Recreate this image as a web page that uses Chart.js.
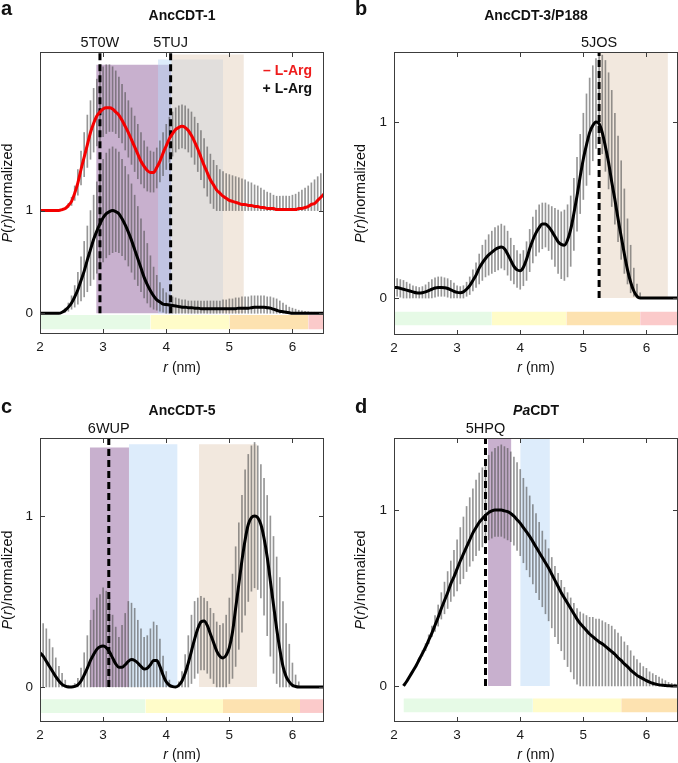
<!DOCTYPE html>
<html lang="en">
<head>
<meta charset="UTF-8">
<title>P(r) distance distributions</title>
<script src="https://cdn.jsdelivr.net/npm/chart.js@4.4.1/dist/chart.umd.min.js"></script>
<style>
  body { margin: 0; background: #fff; }
  #wrap { position: relative; width: 678px; height: 763px; }
  canvas { position: absolute; }
</style>
</head>
<body>
<div id="wrap">
  <canvas id="pa" width="339" height="380" style="left:0;top:0"></canvas>
  <canvas id="pb" width="339" height="380" style="left:339px;top:0"></canvas>
  <canvas id="pc" width="339" height="383" style="left:0;top:380px"></canvas>
  <canvas id="pd" width="339" height="383" style="left:339px;top:380px"></canvas>
</div>
<script>
// distance grid (nm)
const R = [2,2.05,2.1,2.15,2.2,2.25,2.3,2.35,2.4,2.45, 2.5,2.55,2.6,2.65,2.7,2.75,2.8,2.85,2.9,2.95,
  3,3.05,3.1,3.15,3.2,3.25,3.3,3.35,3.4,3.45, 3.5,3.55,3.6,3.65,3.7,3.75,3.8,3.85,3.9,3.95,
  4,4.05,4.1,4.15,4.2,4.25,4.3,4.35,4.4,4.45, 4.5,4.55,4.6,4.65,4.7,4.75,4.8,4.85,4.9,4.95,
  5,5.05,5.1,5.15,5.2,5.25,5.3,5.35,5.4,5.45, 5.5,5.55,5.6,5.65,5.7,5.75,5.8,5.85,5.9,5.95,
  6,6.05,6.1,6.15,6.2,6.25,6.3,6.35,6.4,6.45, 6.5];

const X_TICKS = [2, 3, 4, 5, 6];
const Y_TICKS = [0, 1];

// a: AncCDT-1, -L-Arg (offset by 1) and +L-Arg
const aMinusArg = [1,1,1,1,1,1,1,1.01,1.02,1.05, 1.09,1.17,1.27,1.40,1.52,1.64,1.76,1.85,1.92,1.96,
  1.99,2.00,2.00,1.99,1.96,1.93,1.88,1.82,1.76,1.69, 1.62,1.55,1.48,1.43,1.39,1.37,1.37,1.42,1.48,1.56,
  1.63,1.70,1.75,1.79,1.81,1.82,1.81,1.78,1.73,1.67, 1.60,1.52,1.44,1.37,1.30,1.25,1.20,1.17,1.14,1.12,
  1.10,1.09,1.08,1.07,1.06,1.06,1.05,1.05,1.04,1.04, 1.03,1.03,1.02,1.02,1.02,1.01,1.01,1.01,1.01,1.01,
  1.01,1.01,1.02,1.02,1.03,1.04,1.06,1.07,1.10,1.13, 1.16];
const aMinusArgHi = [null,null,null,null,null,null,null,null,null,1.07, 1.13,1.24,1.40,1.58,1.76,1.93,2.07,2.19,2.28,2.35,
  2.40,2.42,2.42,2.40,2.36,2.30,2.23,2.15,2.07,2.00, 1.92,1.84,1.76,1.68,1.62,1.58,1.57,1.61,1.68,1.76,
  1.84,1.91,1.96,2.00,2.02,2.03,2.02,1.99,1.96,1.91, 1.85,1.78,1.70,1.62,1.55,1.49,1.44,1.40,1.38,1.36,
  1.35,1.34,1.33,1.32,1.31,1.30,1.28,1.27,1.25,1.24, 1.22,1.20,1.18,1.17,1.15,1.14,1.14,1.14,1.14,1.14,
  1.15,1.16,1.18,1.20,1.22,1.24,1.27,1.30,1.33,1.36, 1.40];
const aMinusArgLo = [null,null,null,null,null,null,null,null,null,1.03, 1.05,1.10,1.15,1.25,1.33,1.42,1.50,1.57,1.63,1.68,
  1.72,1.75,1.77,1.77,1.75,1.71,1.66,1.59,1.52,1.45, 1.38,1.31,1.26,1.22,1.19,1.18,1.18,1.22,1.28,1.34,
  1.40,1.47,1.53,1.57,1.60,1.61,1.60,1.57,1.52,1.45, 1.38,1.30,1.22,1.14,1.07,1.02,1,1,1,1,
  1,1,1,1,1,1,1,1,1,1, 1,1,1,1,1,1,1,1,1,1,
  1,1,1,1,1,1,1,1,1,1, 1];
const aPlusArg = [0,0,0,0,0,0,0,0.01,0.03,0.06, 0.10,0.16,0.23,0.32,0.41,0.52,0.62,0.72,0.80,0.87,
  0.93,0.97,0.99,1.00,0.99,0.97,0.92,0.86,0.79,0.71, 0.62,0.53,0.44,0.35,0.28,0.22,0.17,0.13,0.11,0.09,
  0.085,0.08,0.075,0.07,0.065,0.06,0.06,0.055,0.055,0.05, 0.05,0.045,0.045,0.045,0.045,0.045,0.045,0.045,0.045,0.045,
  0.045,0.045,0.045,0.05,0.05,0.05,0.05,0.055,0.06,0.06, 0.06,0.06,0.055,0.05,0.04,0.03,0.02,0.015,0.01,0.005,
  0,0,0,0,0,0,0,0,0,0, 0];
const aPlusArgHi = [null,null,null,null,null,null,null,null,0.05,0.10, 0.17,0.27,0.40,0.55,0.70,0.85,1.00,1.15,1.28,1.40,
  1.50,1.56,1.60,1.62,1.60,1.57,1.50,1.43,1.35,1.26, 1.15,1.04,0.92,0.80,0.68,0.56,0.45,0.37,0.30,0.24,
  0.20,0.18,0.16,0.15,0.14,0.13,0.13,0.12,0.12,0.12, 0.12,0.12,0.12,0.12,0.12,0.12,0.12,0.12,0.13,0.13,
  0.14,0.14,0.15,0.15,0.16,0.16,0.16,0.17,0.17,0.17, 0.17,0.17,0.16,0.16,0.15,0.14,0.12,0.10,0.08,0.06,
  0.05,0.04,0.03,0.025,0.02,0.015,0.01,0.01,0.005,0.005, 0];
const aPlusArgLo = [null,null,null,null,null,null,null,null,0.01,0.02, 0.04,0.06,0.09,0.12,0.16,0.21,0.27,0.33,0.39,0.45,
  0.50,0.54,0.57,0.59,0.60,0.59,0.56,0.52,0.46,0.40, 0.33,0.27,0.21,0.15,0.10,0.06,0.04,0.03,0.02,0.01,
  0,0,0,0,0,0,0,0,0,0, 0,0,0,0,0,0,0,0,0,0,
  0,0,0,0,0,0,0,0,0,0, 0,0,0,0,0,0,0,0,0,0,
  0,0,0,0,0,0,0,0,0,0, 0];

// b: AncCDT-3/P188
const bP = [0.06,0.06,0.055,0.05,0.045,0.04,0.035,0.03,0.028,0.03, 0.035,0.042,0.05,0.057,0.06,0.06,0.058,0.054,0.047,0.038,
  0.032,0.03,0.035,0.05,0.07,0.10,0.13,0.17,0.20,0.225, 0.245,0.26,0.275,0.285,0.29,0.28,0.25,0.215,0.18,0.16,
  0.155,0.175,0.22,0.28,0.33,0.37,0.40,0.42,0.42,0.405, 0.38,0.35,0.32,0.305,0.30,0.33,0.39,0.48,0.58,0.69,
  0.79,0.87,0.94,0.98,1.00,0.99,0.94,0.86,0.77,0.66, 0.56,0.45,0.35,0.25,0.16,0.09,0.04,0.01,0,0,
  0,0,0,0,0,0,0,0,0,0, 0];
const bHi = [0.11,0.11,0.105,0.10,0.09,0.08,0.07,0.065,0.06,0.065, 0.075,0.09,0.105,0.115,0.12,0.12,0.115,0.11,0.10,0.085,
  0.07,0.065,0.07,0.09,0.12,0.16,0.20,0.25,0.30,0.33, 0.36,0.38,0.40,0.41,0.42,0.41,0.38,0.34,0.30,0.27,
  0.25,0.27,0.32,0.39,0.46,0.50,0.53,0.54,0.54,0.53, 0.52,0.51,0.50,0.49,0.50,0.53,0.58,0.68,0.80,0.93,
  1.05,1.16,1.25,1.32,1.36,1.38,1.38,1.35,1.28,1.18, 1.05,0.92,0.78,0.62,0.45,0.30,0.17,0.08,0.03,0,
  0,0,0,0,0,0,0,0,0,0, 0];
const bLo = [0.01,0.01,0.005,0,0,0,0,0,0,0, 0,0,0,0.005,0.01,0.01,0.01,0.005,0,0,
  0,0,0,0.01,0.02,0.04,0.06,0.08,0.10,0.12, 0.13,0.14,0.15,0.16,0.17,0.16,0.13,0.10,0.08,0.06,
  0.05,0.07,0.10,0.15,0.20,0.24,0.26,0.28,0.29,0.27, 0.22,0.18,0.14,0.11,0.10,0.12,0.18,0.27,0.38,0.48,
  0.56,0.64,0.70,0.78,0.85,0.88,0.82,0.72,0.62,0.52, 0.42,0.32,0.22,0.14,0.08,0.03,0.01,0,0,0,
  0,0,0,0,0,0,0,0,0,0, 0];

// c: AncCDT-5
const cP = [0.20,0.18,0.15,0.12,0.09,0.06,0.035,0.015,0.005,0, 0,0.003,0.012,0.035,0.07,0.11,0.155,0.19,0.22,0.235,
  0.24,0.23,0.205,0.17,0.135,0.115,0.115,0.13,0.15,0.16, 0.155,0.14,0.12,0.105,0.11,0.13,0.155,0.155,0.12,0.07,
  0.03,0.01,0.002,0,0.01,0.035,0.08,0.14,0.21,0.28, 0.34,0.38,0.385,0.36,0.31,0.26,0.21,0.18,0.17,0.185,
  0.23,0.32,0.46,0.60,0.74,0.86,0.95,0.99,1.00,0.99, 0.95,0.87,0.76,0.62,0.48,0.34,0.22,0.12,0.06,0.03,
  0.01,0.003,0,0,0,0,0,0,0,0, 0];
const cHi = [0.41,0.37,0.34,0.28,0.23,0.17,0.12,0.08,0.04,0.01, 0,0.02,0.05,0.11,0.20,0.30,0.39,0.45,0.52,0.54,
  0.58,0.56,0.52,0.42,0.35,0.29,0.36,0.43,0.50,0.49, 0.46,0.39,0.34,0.29,0.30,0.34,0.38,0.36,0.28,0.18,
  0.09,0.04,0.01,0,0.03,0.09,0.19,0.30,0.42,0.50, 0.52,0.53,0.52,0.50,0.46,0.43,0.38,0.36,0.37,0.42,
  0.52,0.66,0.82,0.96,1.12,1.27,1.36,1.41,1.43,1.41, 1.30,1.22,1.12,1.00,0.88,0.76,0.64,0.50,0.37,0.25,
  0.14,0.07,0.03,0,0,0,0,0,0,0, 0];
const cLo = [0,0,0,0,0,0,0,0,0,0, 0,0,0,0,0,0,0,0,0,0,
  0,0,0,0,0,0,0,0,0,0, 0,0,0,0,0,0,0,0,0,0,
  0,0,0,0,0,0,0,0,0.02,0.05, 0.08,0.10,0.10,0.08,0.05,0.02,0,0,0,0,
  0.02,0.05,0.12,0.22,0.32,0.42,0.50,0.56,0.58,0.57, 0.52,0.42,0.30,0.18,0.08,0.02,0,0,0,0,
  0,0,0,0,0,0,0,0,0,0, 0];

// d: PaCDT
const dP = [null,null,null,0,0.025,0.055,0.085,0.115,0.15,0.185, 0.22,0.26,0.30,0.345,0.39,0.44,0.485,0.53,0.58,0.62,
  0.665,0.71,0.75,0.79,0.83,0.87,0.90,0.93,0.95,0.97, 0.985,0.995,1.00,1.00,1.00,0.995,0.99,0.98,0.965,0.945,
  0.925,0.90,0.875,0.85,0.82,0.79,0.76,0.73,0.70,0.67, 0.635,0.60,0.565,0.53,0.50,0.47,0.44,0.41,0.38,0.355,
  0.335,0.315,0.295,0.28,0.265,0.25,0.24,0.225,0.21,0.195, 0.18,0.16,0.145,0.125,0.11,0.09,0.075,0.06,0.05,0.04,
  0.03,0.022,0.015,0.01,0.006,0.004,0.002,0.001,0,0, 0];
const dHi = [null,null,null,null,null,null,0.09,0.12,0.16,0.20, 0.24,0.29,0.34,0.40,0.46,0.53,0.59,0.65,0.71,0.77,
  0.83,0.90,0.96,1.02,1.07,1.12,1.17,1.21,1.24,1.28, 1.31,1.33,1.35,1.36,1.37,1.36,1.35,1.33,1.30,1.27,
  1.23,1.18,1.13,1.08,1.03,0.98,0.93,0.88,0.83,0.78, 0.73,0.68,0.64,0.60,0.56,0.53,0.50,0.47,0.44,0.42,
  0.41,0.40,0.39,0.39,0.38,0.38,0.37,0.36,0.35,0.34, 0.32,0.30,0.28,0.25,0.23,0.20,0.17,0.15,0.13,0.11,
  0.10,0.08,0.07,0.06,0.05,0.04,0.03,0.02,0.015,0.01, 0.005];
const dLo = [null,null,null,null,null,null,0.08,0.11,0.14,0.17, 0.20,0.24,0.28,0.31,0.34,0.38,0.41,0.44,0.48,0.51,
  0.54,0.58,0.61,0.65,0.68,0.71,0.74,0.77,0.79,0.81, 0.83,0.84,0.85,0.85,0.85,0.84,0.83,0.82,0.80,0.77,
  0.74,0.70,0.66,0.62,0.58,0.53,0.49,0.45,0.41,0.37, 0.33,0.28,0.24,0.20,0.15,0.11,0.08,0.04,0.01,0,
  0,0,0,0,0,0,0,0,0,0, 0,0,0,0,0,0,0,0,0,0,
  0,0,0,0,0,0,0,0,0,0, 0];

// structure ranges (shaded), reference structures (dashed), and the strip below zero
const aRegFrom = [2.89, 3.87, 4.08], aRegTo = [4.08, 4.90, 5.23], aRegTop = [2.42, 2.47, 2.52], aRegKind = ['purple', 'blue', 'tan'];
const bRegFrom = [5.26], bRegTo = [6.34], bRegTop = [1.40], bRegKind = ['tan'];
const cRegFrom = [2.79, 3.41, 4.52], cRegTo = [3.41, 4.18, 5.44], cRegTop = [1.40, 1.42, 1.42], cRegKind = ['purple', 'blue', 'tan'];
const dRegFrom = [3.49, 4.00], dRegTo = [3.86, 4.47], dRegTop = [1.41, 1.41], dRegKind = ['purple', 'blue'];

const aPdbNames = ['5T0W', '5TUJ'], aPdbR = [2.95, 4.07];
const bPdbNames = ['5JOS'], bPdbR = [5.25];
const cPdbNames = ['6WUP'], cPdbR = [3.09];
const dPdbNames = ['5HPQ'], dPdbR = [3.45];

const aStrip = [2, 3.75, 5.0, 6.25, 6.5];
const bStrip = [2, 3.55, 4.73, 5.9, 6.5];
const cStrip = [2, 3.67, 4.9, 6.12, 6.5];
const dStrip = [2.15, 4.2, 5.6, 6.5];

const REGION_COLORS = { purple: 'rgba(145,98,157,0.5)', blue: 'rgba(187,217,248,0.5)', tan: 'rgba(229,209,189,0.5)' };
const STRIP_COLORS = ['#e6fae6', '#fffcc9', '#fde2b0', '#fbcaca'];
const ERR_COLOR = 'rgba(80,80,80,0.6)';

const FONT = '"Liberation Sans", Arial, Helvetica, sans-serif';
Chart.defaults.font.family = FONT;
Chart.defaults.font.size = 13.5;
Chart.defaults.color = '#1a1a1a';
Chart.defaults.animation = false;

const f = (style, size) => style + ' ' + size + 'px ' + FONT;

function drawRich(ctx, parts, x, y, align) {
  let w = 0;
  for (const [t, font] of parts) { ctx.font = font; w += ctx.measureText(t).width; }
  let cx = align === 'center' ? x - w / 2 : align === 'right' ? x - w : x;
  ctx.textAlign = 'left';
  for (const [t, font] of parts) { ctx.font = font; ctx.fillText(t, cx, y); cx += ctx.measureText(t).width; }
}

function curvePts(v) {
  return R.map((x, i) => ({ x, y: v[i] })).filter(p => p.y != null);
}
function barPts(lo, hi) {
  const out = [];
  R.forEach((x, i) => { if (lo[i] != null && hi[i] != null) out.push({ x, y: [lo[i], hi[i]] }); });
  return out;
}

// frame with inward ticks on all four sides
const framePlugin = {
  id: 'frame',
  afterDatasetsDraw(chart) {
    const { ctx, chartArea: a, scales: { x, y } } = chart;
    ctx.save();
    ctx.strokeStyle = '#3c3c3c';
    ctx.lineWidth = 1;
    ctx.strokeRect(a.left + 0.5, a.top + 0.5, a.right - a.left - 1, a.bottom - a.top - 1);
    ctx.beginPath();
    X_TICKS.forEach(v => {
      const px = Math.round(x.getPixelForValue(v)) + 0.5;
      if (px <= a.left + 1) return;
      ctx.moveTo(px, a.bottom); ctx.lineTo(px, a.bottom - 5);
      ctx.moveTo(px, a.top); ctx.lineTo(px, a.top + 5);
    });
    Y_TICKS.forEach(v => {
      const py = Math.round(y.getPixelForValue(v)) + 0.5;
      ctx.moveTo(a.left, py); ctx.lineTo(a.left + 5, py);
      ctx.moveTo(a.right, py); ctx.lineTo(a.right - 5, py);
    });
    ctx.stroke();
    ctx.restore();
  }
};

function makePanel(id, p) {
  const datasets = [];
  // colour strip under zero
  for (let i = 0; i < p.strip.length - 1; i++) {
    datasets.push({
      type: 'line', data: [{ x: p.strip[i], y: p.stripLo }, { x: p.strip[i + 1], y: p.stripLo }],
      fill: { value: p.stripHi }, backgroundColor: STRIP_COLORS[i], borderWidth: 0, pointRadius: 0, order: 70
    });
  }
  // shaded structure ranges
  p.regFrom.forEach((x1, i) => {
    datasets.push({
      type: 'line', data: [{ x: x1, y: p.regTop[i] }, { x: p.regTo[i], y: p.regTop[i] }],
      fill: { value: 0 }, backgroundColor: REGION_COLORS[p.regKind[i]], borderWidth: 0, pointRadius: 0, order: 60 - i
    });
  });
  // error bars
  p.series.forEach(s => {
    datasets.push({
      type: 'bar', data: barPts(s.lo, s.hi), backgroundColor: ERR_COLOR, borderWidth: 0,
      barThickness: 1, grouped: false, order: 40
    });
  });
  // reference structure positions
  p.pdbR.forEach(x0 => {
    datasets.push({
      type: 'line', data: [{ x: x0, y: 0 }, { x: x0, y: p.yMax }], borderColor: '#000', borderWidth: 3,
      borderDash: [7, 4], pointRadius: 0, fill: false, order: 20
    });
  });
  // P(r) curves
  p.series.forEach((s, k) => {
    datasets.push({
      type: 'line', data: curvePts(s.v), borderColor: s.color, borderWidth: 3, pointRadius: 0,
      fill: false, cubicInterpolationMode: 'monotone', order: 10 + (p.series.length - k)
    });
  });

  const textPlugin = {
    id: 'panelText',
    afterDraw(chart) {
      const { ctx, chartArea: a, scales: { x } } = chart;
      const midX = (a.left + a.right) / 2;
      ctx.save();
      ctx.fillStyle = '#111';
      ctx.textBaseline = 'alphabetic';
      drawRich(ctx, [[p.letter, f('bold', 20)]], p.letterX, p.letterY, 'left');
      drawRich(ctx, p.title, midX, p.titleY, 'center');
      p.pdbNames.forEach((n, i) => drawRich(ctx, [[n, f('normal', 14.5)]], x.getPixelForValue(p.pdbR[i]), p.pdbY, 'center'));
      ctx.textBaseline = 'middle';
      drawRich(ctx, [['r', f('italic', 14)], [' (nm)', f('normal', 14)]], midX, p.xTitleY, 'center');
      ctx.save();
      ctx.translate(p.yTitleX, (a.top + a.bottom) / 2);
      ctx.rotate(-Math.PI / 2);
      drawRich(ctx, [['P', f('italic', 14.5)], ['(', f('normal', 14.5)], ['r', f('italic', 14.5)], [')/normalized', f('normal', 14.5)]], 0, 0, 'center');
      ctx.restore();
      if (p.legend) {
        ctx.textBaseline = 'alphabetic';
        p.legend.forEach(l => { ctx.fillStyle = l.color; drawRich(ctx, [[l.text, f('bold', 14)]], l.x, l.y, 'right'); });
      }
      ctx.restore();
    }
  };

  return new Chart(document.getElementById(id), {
    type: 'line',
    data: { datasets },
    plugins: [framePlugin, textPlugin],
    options: {
      responsive: false,
      animation: false,
      events: [],
      layout: { padding: { left: 0, top: p.top, right: p.right, bottom: 0 } },
      plugins: { legend: { display: false }, tooltip: { enabled: false }, title: { display: false } },
      scales: {
        x: {
          type: 'linear', min: 2, max: 6.5, offset: false,
          afterBuildTicks: s => { s.ticks = X_TICKS.map(v => ({ value: v })); },
          afterFit: s => { s.height = p.xAxisH; },
          grid: { display: false, drawTicks: false, offset: false }, border: { display: false },
          ticks: { padding: 5, maxRotation: 0, autoSkip: false }
        },
        y: {
          type: 'linear', min: p.yMin, max: p.yMax,
          afterBuildTicks: s => { s.ticks = Y_TICKS.map(v => ({ value: v })); },
          afterFit: s => { s.width = p.yAxisW; },
          grid: { display: false, drawTicks: false }, border: { display: false },
          ticks: { padding: 7 }
        }
      }
    }
  });
}

makePanel('pa', {
  letter: 'a', letterX: 1, letterY: 15,
  title: [['AncCDT-1', f('bold', 14)]], titleY: 20,
  top: 52, right: 15, xAxisH: 46, yAxisW: 40, yMin: -0.2016, yMax: 2.544,
  xTitleY: 368, yTitleX: 8, pdbY: 47,
  strip: aStrip, stripLo: -0.156, stripHi: -0.017,
  regFrom: aRegFrom, regTo: aRegTo, regTop: aRegTop, regKind: aRegKind,
  pdbNames: aPdbNames, pdbR: aPdbR,
  series: [
    { v: aMinusArg, lo: aMinusArgLo, hi: aMinusArgHi, color: '#f40000' },
    { v: aPlusArg, lo: aPlusArgLo, hi: aPlusArgHi, color: '#000' }
  ],
  legend: [
    { text: '\u2013 L-Arg', color: '#ee1c1c', x: 312, y: 75 },
    { text: '+ L-Arg', color: '#111', x: 312, y: 93 }
  ]
});

makePanel('pb', {
  letter: 'b', letterX: 16, letterY: 15,
  title: [['AncCDT-3/P188', f('bold', 14)]], titleY: 20,
  top: 52, right: 0, xAxisH: 45, yAxisW: 55, yMin: -0.21, yMax: 1.398,
  xTitleY: 368, yTitleX: 22, pdbY: 47,
  strip: bStrip, stripLo: -0.155, stripHi: -0.078,
  regFrom: bRegFrom, regTo: bRegTo, regTop: bRegTop, regKind: bRegKind,
  pdbNames: bPdbNames, pdbR: bPdbR,
  series: [{ v: bP, lo: bLo, hi: bHi, color: '#000' }]
});

makePanel('pc', {
  letter: 'c', letterX: 1, letterY: 33,
  title: [['AncCDT-5', f('bold', 14)]], titleY: 35,
  top: 58, right: 15, xAxisH: 41, yAxisW: 40, yMin: -0.205, yMax: 1.456,
  xTitleY: 375, yTitleX: 8, pdbY: 53,
  strip: cStrip, stripLo: -0.152, stripHi: -0.072,
  regFrom: cRegFrom, regTo: cRegTo, regTop: cRegTop, regKind: cRegKind,
  pdbNames: cPdbNames, pdbR: cPdbR,
  series: [{ v: cP, lo: cLo, hi: cHi, color: '#000' }]
});

makePanel('pd', {
  letter: 'd', letterX: 16, letterY: 33,
  title: [['Pa', f('italic bold', 14)], ['CDT', f('bold', 14)]], titleY: 35,
  top: 58, right: 0, xAxisH: 41, yAxisW: 55, yMin: -0.205, yMax: 1.409,
  xTitleY: 375, yTitleX: 22, pdbY: 53,
  strip: dStrip, stripLo: -0.149, stripHi: -0.072,
  regFrom: dRegFrom, regTo: dRegTo, regTop: dRegTop, regKind: dRegKind,
  pdbNames: dPdbNames, pdbR: dPdbR,
  series: [{ v: dP, lo: dLo, hi: dHi, color: '#000' }]
});
</script>
</body>
</html>
